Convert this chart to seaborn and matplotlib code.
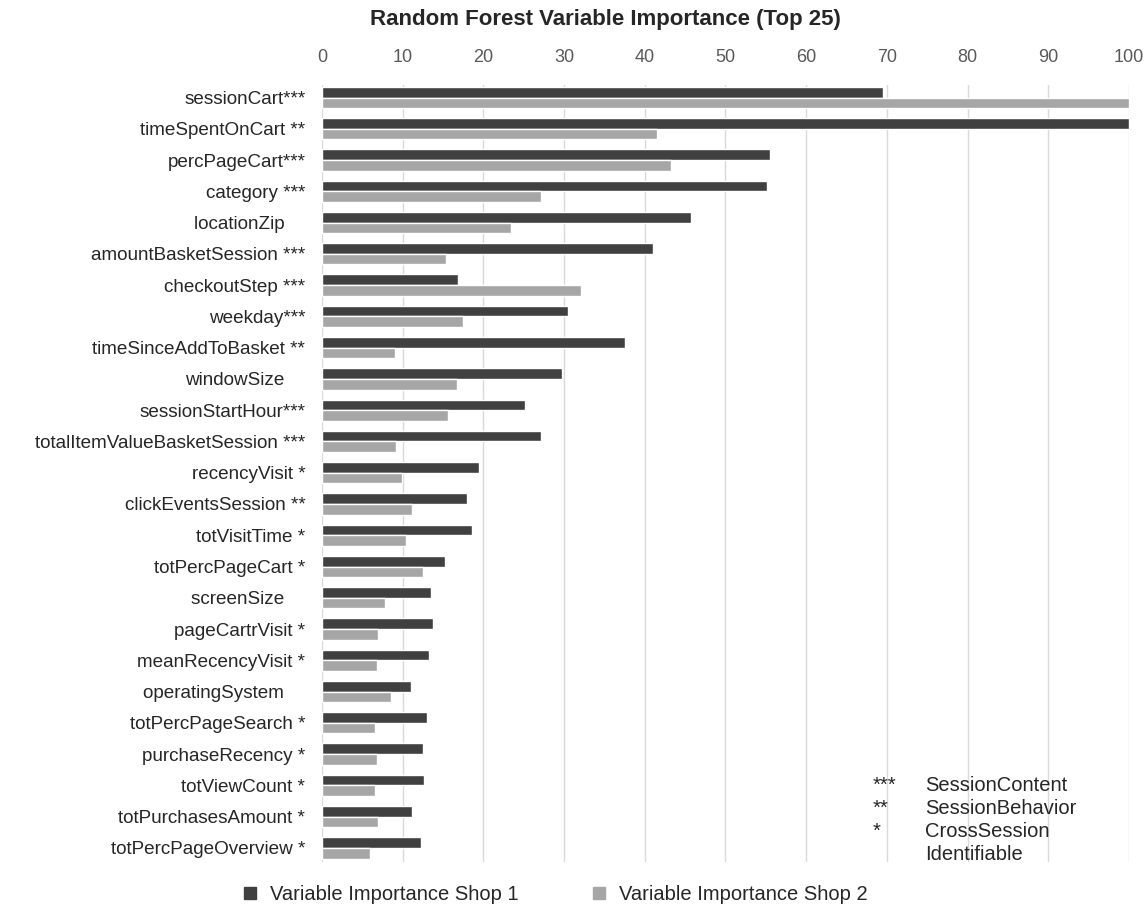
import pandas as pd
import numpy as np
import matplotlib.pyplot as plt
import seaborn as sns
from matplotlib.lines import Line2D

variables = ['sessionCart***', 'timeSpentOnCart **', 'percPageCart***', 'category ***',
             'locationZip    ', 'amountBasketSession ***', 'checkoutStep ***', 'weekday***',
             'timeSinceAddToBasket **', 'windowSize    ', 'sessionStartHour***',
             'totalItemValueBasketSession ***', 'recencyVisit *', 'clickEventsSession **',
             'totVisitTime *', 'totPercPageCart *', 'screenSize    ', 'pageCartrVisit *',
             'meanRecencyVisit *', 'operatingSystem    ', 'totPercPageSearch *',
             'purchaseRecency *', 'totViewCount *', 'totPurchasesAmount *', 'totPercPageOverview *']
shop1 = [69.5, 100, 55.5, 55.2, 45.7, 41.0, 16.9, 30.5, 37.5, 29.8, 25.2, 27.1, 19.4, 18.0,
         18.6, 15.2, 13.5, 13.7, 13.2, 11.0, 12.95, 12.5, 12.7, 11.1, 12.3]
shop2 = [100, 41.5, 43.3, 27.1, 23.4, 15.4, 32.1, 17.5, 9.1, 16.7, 15.6, 9.2, 9.9, 11.1,
         10.4, 12.5, 7.8, 7.0, 6.8, 8.5, 6.6, 6.8, 6.6, 7.0, 5.95]
series = ['Variable Importance Shop 1', 'Variable Importance Shop 2']
colors = ['#404040', '#a6a6a6']
ticks = list(range(0, 101, 10))

df = pd.DataFrame({'variable': variables * 2,
                   'value': shop1 + shop2,
                   'shop': [series[0]] * len(variables) + [series[1]] * len(variables)})

sns.set_style("white")
plt.rcParams['font.family'] = ['Liberation Sans', 'DejaVu Sans']

fig = plt.figure(figsize=(11.48, 9.11), dpi=100)
ax = fig.add_axes([0.2805, 0.0538, 0.7029, 0.8529])
sns.barplot(data=df, y='variable', x='value', hue='shop', orient='h',
            palette=colors, width=0.68, saturation=1, ax=ax, legend=False)
ax.set_xlim(0, 100)
ax.set_ylim(24.45, -0.4)
ax.set_xticks(ticks)
ax.xaxis.tick_top()
ax.tick_params(axis='x', length=0, labelsize=13, labelcolor='#595959', pad=14)
ax.tick_params(axis='y', length=0, labelsize=13.6, labelcolor='#262626', pad=12)
ax.set_xlabel('')
ax.set_ylabel('')
ax.grid(axis='x', color='#d9d9d9', linewidth=1)
ax.set_axisbelow(True)
for s in ax.spines.values():
    s.set_visible(False)

fig.suptitle('Random Forest Variable Importance (Top 25)', fontsize=16, fontweight='bold',
             color='#262626', x=0.527, y=0.99)

# star key
key = [('***', 'SessionContent'), ('**', 'SessionBehavior'), ('*', 'CrossSession'), ('', 'Identifiable')]
for i, (s, t) in enumerate(key):
    y = 0.138 - i * 0.0255
    fig.text(0.760, y, s, fontsize=14.5, color='#262626', va='center')
    fig.text(0.806, y, t, fontsize=14.5, color='#262626', va='center')

handles = [Line2D([], [], marker='s', color=c, linestyle='', markersize=9) for c in colors]
fig.legend(handles, series, loc='lower center', bbox_to_anchor=(0.478, -0.012), ncol=2,
           frameon=False, fontsize=14.5, handletextpad=0.0, columnspacing=3.0,
           labelcolor='#262626')

fig.savefig('out.png', dpi=100)
